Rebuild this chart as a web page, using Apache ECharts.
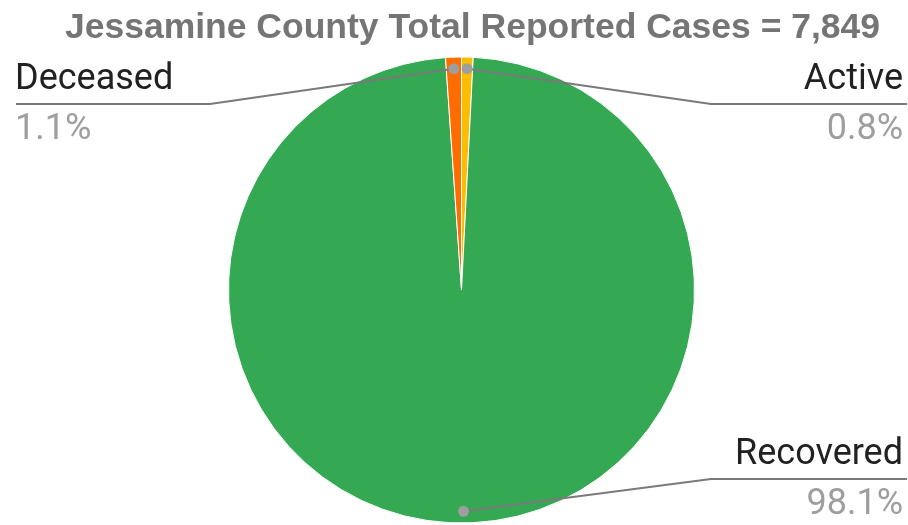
<!DOCTYPE html>
<html>
<head>
<meta charset="utf-8">
<script src="https://cdn.jsdelivr.net/npm/echarts@6/dist/echarts.min.js"></script>
<style>
  html, body { margin: 0; padding: 0; background: #fff; }
  #chart { width: 908px; height: 525px; }
</style>
</head>
<body>
<div id="chart"></div>
<script>
// ---- data ----
const categories = ['Active', 'Recovered', 'Deceased'];
const caseCounts = [63, 7700, 86];
const countyName = 'Jessamine County';

// ---- layout constants ----
const PIE_CENTER = [461.5, 290];
const PIE_RADIUS = 233;
const DOT_RADIUS_FRAC = 0.95;
const LABEL_LINE_TOP = 104;
const LABEL_LINE_BOTTOM = 479;
const LEFT_TEXT_X = 15, LEFT_LINE_X = 16, LEFT_ELBOW_X = 210;
const RIGHT_TEXT_X = 903, RIGHT_LINE_X = 907, RIGHT_ELBOW_X = 711;

const total = caseCounts.reduce((a, b) => a + b, 0);
const pieData = categories.map((c, i) => ({ name: c, value: caseCounts[i] }));

// slice mid-points (angle value) for the connector dots
const midValues = [];
let cum = 0;
caseCounts.forEach(v => { midValues.push(cum + v / 2); cum += v; });
const dotData = midValues.map((m, i) => [DOT_RADIUS_FRAC, m, i]);

function isLeftSide(i) { return midValues[i] / total > 0.5; }
function lineYFor(dotY) { return Math.min(Math.max(dotY, LABEL_LINE_TOP), LABEL_LINE_BOTTOM); }

const chart = echarts.init(document.getElementById('chart'), null, { renderer: 'canvas' });

const option = {
  backgroundColor: '#ffffff',
  animation: false,
  title: {
    text: countyName + ' Total Reported Cases = ' + total.toLocaleString('en-US'),
    left: 467.5,
    textAlign: 'center',
    top: 5,
    textStyle: { fontFamily: 'Liberation Sans', fontWeight: 'bold', fontSize: 35.5, color: '#757575' }
  },
  polar: { center: PIE_CENTER, radius: PIE_RADIUS },
  angleAxis: { type: 'value', min: 0, max: total, startAngle: 90, clockwise: true, show: false },
  radiusAxis: { type: 'value', min: 0, max: 1, show: false },
  series: [
    {
      type: 'pie',
      center: PIE_CENTER,
      radius: PIE_RADIUS,
      startAngle: 90,
      clockwise: true,
      avoidLabelOverlap: false,
      percentPrecision: 1,
      color: ['#fbbc04', '#34a853', '#ff6d01'],
      itemStyle: { borderColor: '#ffffff', borderWidth: 1 },
      emphasis: { disabled: true },
      label: {
        show: true,
        position: 'outer',
        formatter: '{n|{b}}\n{p|{d}%}',
        rich: {
          n: { fontFamily: 'Roboto', fontSize: 36, color: '#212121', lineHeight: 51 },
          p: { fontFamily: 'Roboto', fontSize: 36, color: '#9e9e9e', lineHeight: 48 }
        }
      },
      labelLine: { show: false },
      labelLayout: function (params) {
        const i = params.dataIndex;
        const ang = midValues[i] / total * Math.PI * 2;
        const dotY = PIE_CENTER[1] - Math.cos(ang) * PIE_RADIUS * DOT_RADIUS_FRAC;
        const isLeft = isLeftSide(i);
        return {
          x: isLeft ? LEFT_TEXT_X : RIGHT_TEXT_X,
          y: lineYFor(dotY),
          align: isLeft ? 'left' : 'right',
          verticalAlign: 'middle'
        };
      },
      data: pieData
    },
    {
      type: 'custom',
      coordinateSystem: 'polar',
      z: 5,
      silent: true,
      data: dotData,
      renderItem: function (params, api) {
        const pt = api.coord([api.value(0), api.value(1)]);
        const i = api.value(2);
        const isLeft = isLeftSide(i);
        const lineY = lineYFor(pt[1]);
        return {
          type: 'group',
          children: [
            {
              type: 'polyline',
              shape: { points: [pt, [isLeft ? LEFT_ELBOW_X : RIGHT_ELBOW_X, lineY], [isLeft ? LEFT_LINE_X : RIGHT_LINE_X, lineY]] },
              style: { stroke: '#7a7a7a', lineWidth: 2, fill: null }
            },
            {
              type: 'circle',
              shape: { cx: pt[0], cy: pt[1], r: 5.5 },
              style: { fill: '#9e9e9e' }
            }
          ]
        };
      }
    }
  ]
};
chart.setOption(option);
</script>
</body>
</html>
